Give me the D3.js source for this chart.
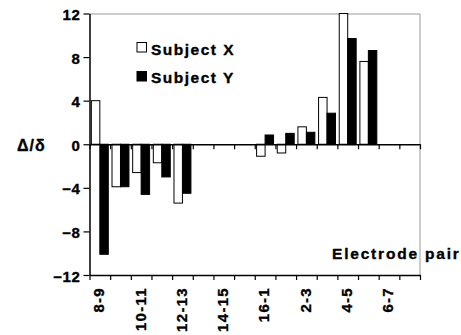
<!DOCTYPE html>
<html>
<head>
<meta charset="utf-8">
<script src="https://cdn.jsdelivr.net/npm/d3@7"></script>
<style>
  body { margin: 0; background: #fff; }
  text { font-family: "Liberation Sans", Arial, sans-serif; font-weight: bold; fill: #000; stroke: #000; stroke-width: 0.35px; }
</style>
</head>
<body>
<div id="container"></div>
<script>
// electrode pairs, every other one is labelled
const pairs = ['8-9', '9-10', '10-11', '11-12', '12-13', '13-14', '14-15', '15-16',
               '16-1', '1-2', '2-3', '3-4', '4-5', '5-6', '6-7', '7-8'];
const shownLabels = ['8-9', '10-11', '12-13', '14-15', '16-1', '2-3', '4-5', '6-7'];
const subjectX = [4.0, -3.9, -2.6, -1.7, -5.4, null, null, null, -1.1, -0.8, 1.6, 4.3, 12.0, 7.6, null, null];
const subjectY = [-10.1, -3.9, -4.6, -3.0, -4.5, null, null, null, 0.85, 1.0, 1.1, 2.85, 9.7, 8.6, null, null];
const yTicks = [-12, -8, -4, 0, 4, 8, 12];

const width = 461, height = 335;
const margin = {top: 13.5, right: 41, bottom: 60, left: 89.5};
const plotW = width - margin.left - margin.right;
const plotH = height - margin.top - margin.bottom;

const svg = d3.select('#container')
  .append('svg')
  .attr('width', width)
  .attr('height', height);

const g = svg.append('g')
  .attr('transform', `translate(${margin.left}, ${margin.top})`);

const xScale = d3.scaleBand()
  .domain(pairs)
  .range([0, plotW]);

// boundaries between pairs, used for tick marks
const edgeScale = d3.scaleLinear()
  .domain([0, pairs.length])
  .range([0, plotW]);

const yScale = d3.scaleLinear()
  .domain([-12, 12])
  .range([plotH, 0]);

const barPad = 0.09 * xScale.bandwidth();
const barW = (xScale.bandwidth() - 2 * barPad) / 2;

//grey frame top and right
g.append('path')
  .attr('d', `M0,0.5H${plotW}V${plotH}`)
  .style('fill', 'none')
  .style('stroke', '#999')
  .style('stroke-width', 1);

//bars
const drawBars = (values, offset, fill) => {
  g.selectAll(null)
    .data(values.map((v, i) => ({pair: pairs[i], v})).filter(d => d.v !== null))
    .enter()
    .append('rect')
    .attr('x', d => xScale(d.pair) + barPad + offset)
    .attr('y', d => yScale(Math.max(0, d.v)))
    .attr('width', barW)
    .attr('height', d => Math.abs(yScale(d.v) - yScale(0)))
    .style('fill', fill)
    .style('stroke', '#000')
    .style('stroke-width', 1);
};
drawBars(subjectX, 0, '#fff');
drawBars(subjectY, barW, '#000');

//zero line with ticks
const zeroAxis = g.append('g')
  .attr('transform', `translate(0, ${yScale(0)})`)
  .call(d3.axisBottom(edgeScale)
    .ticks(pairs.length)
    .tickFormat('')
    .tickSize(5)
    .tickSizeOuter(0));

//bottom axis at -12
const bottomAxis = g.append('g')
  .attr('transform', `translate(0, ${plotH})`)
  .call(d3.axisBottom(edgeScale)
    .ticks(pairs.length)
    .tickFormat('')
    .tickSize(5)
    .tickSizeOuter(0));

[zeroAxis, bottomAxis].forEach(a => {
  a.select('.domain').style('stroke', '#000').style('stroke-width', 1.5);
  a.selectAll('.tick line').style('stroke', '#000').style('stroke-width', 1.2);
});

//pair labels
g.selectAll('.pair_label')
  .data(shownLabels)
  .enter()
  .append('text')
  .attr('class', 'pair_label')
  .attr('transform', d => `translate(${xScale(d) + xScale.bandwidth() / 2 - 1}, ${plotH + 12}) rotate(-90)`)
  .attr('text-anchor', 'end')
  .attr('dy', '0.36em')
  .style('font-size', '15px')
  .style('letter-spacing', '1.3px')
  .text(d => d);

//left axis
const leftAxis = g.append('g')
  .call(d3.axisLeft(yScale)
    .tickValues(yTicks)
    .tickSize(6)
    .tickSizeOuter(0)
    .tickPadding(3));
leftAxis.select('.domain').style('stroke', '#000').style('stroke-width', 1.5);
leftAxis.selectAll('.tick line').style('stroke', '#000').style('stroke-width', 1.2);
leftAxis.selectAll('.tick text')
  .style('font-size', '15px')
  .style('font-family', '"Liberation Sans", Arial, sans-serif')
  .style('font-weight', 'bold')
  .style('letter-spacing', '0.6px')
  .attr('dy', '0.4em')
  .style('fill', '#000');

//left axis label
svg.append('text')
  .attr('x', 17)
  .attr('y', 151)
  .style('font-size', '16px')
  .style('letter-spacing', '1px')
  .text('Δ/δ');

//bottom axis label
svg.append('text')
  .attr('x', 332)
  .attr('y', 259)
  .style('font-size', '15.5px')
  .style('letter-spacing', '1.8px')
  .text('Electrode pair');

//legend
const legend = [
  {name: 'Subject X', fill: '#fff'},
  {name: 'Subject Y', fill: '#000'}
];
const legendG = svg.append('g');
legend.forEach((d, i) => {
  legendG.append('rect')
    .attr('x', 137)
    .attr('y', 42.5 + i * 29)
    .attr('width', 9.5)
    .attr('height', 9.5)
    .style('fill', d.fill)
    .style('stroke', '#000')
    .style('stroke-width', 1);
  legendG.append('text')
    .attr('x', 151)
    .attr('y', 54.5 + i * 28)
    .style('font-size', '15.5px')
    .style('letter-spacing', '1.5px')
    .text(d.name);
});
</script>
</body>
</html>
